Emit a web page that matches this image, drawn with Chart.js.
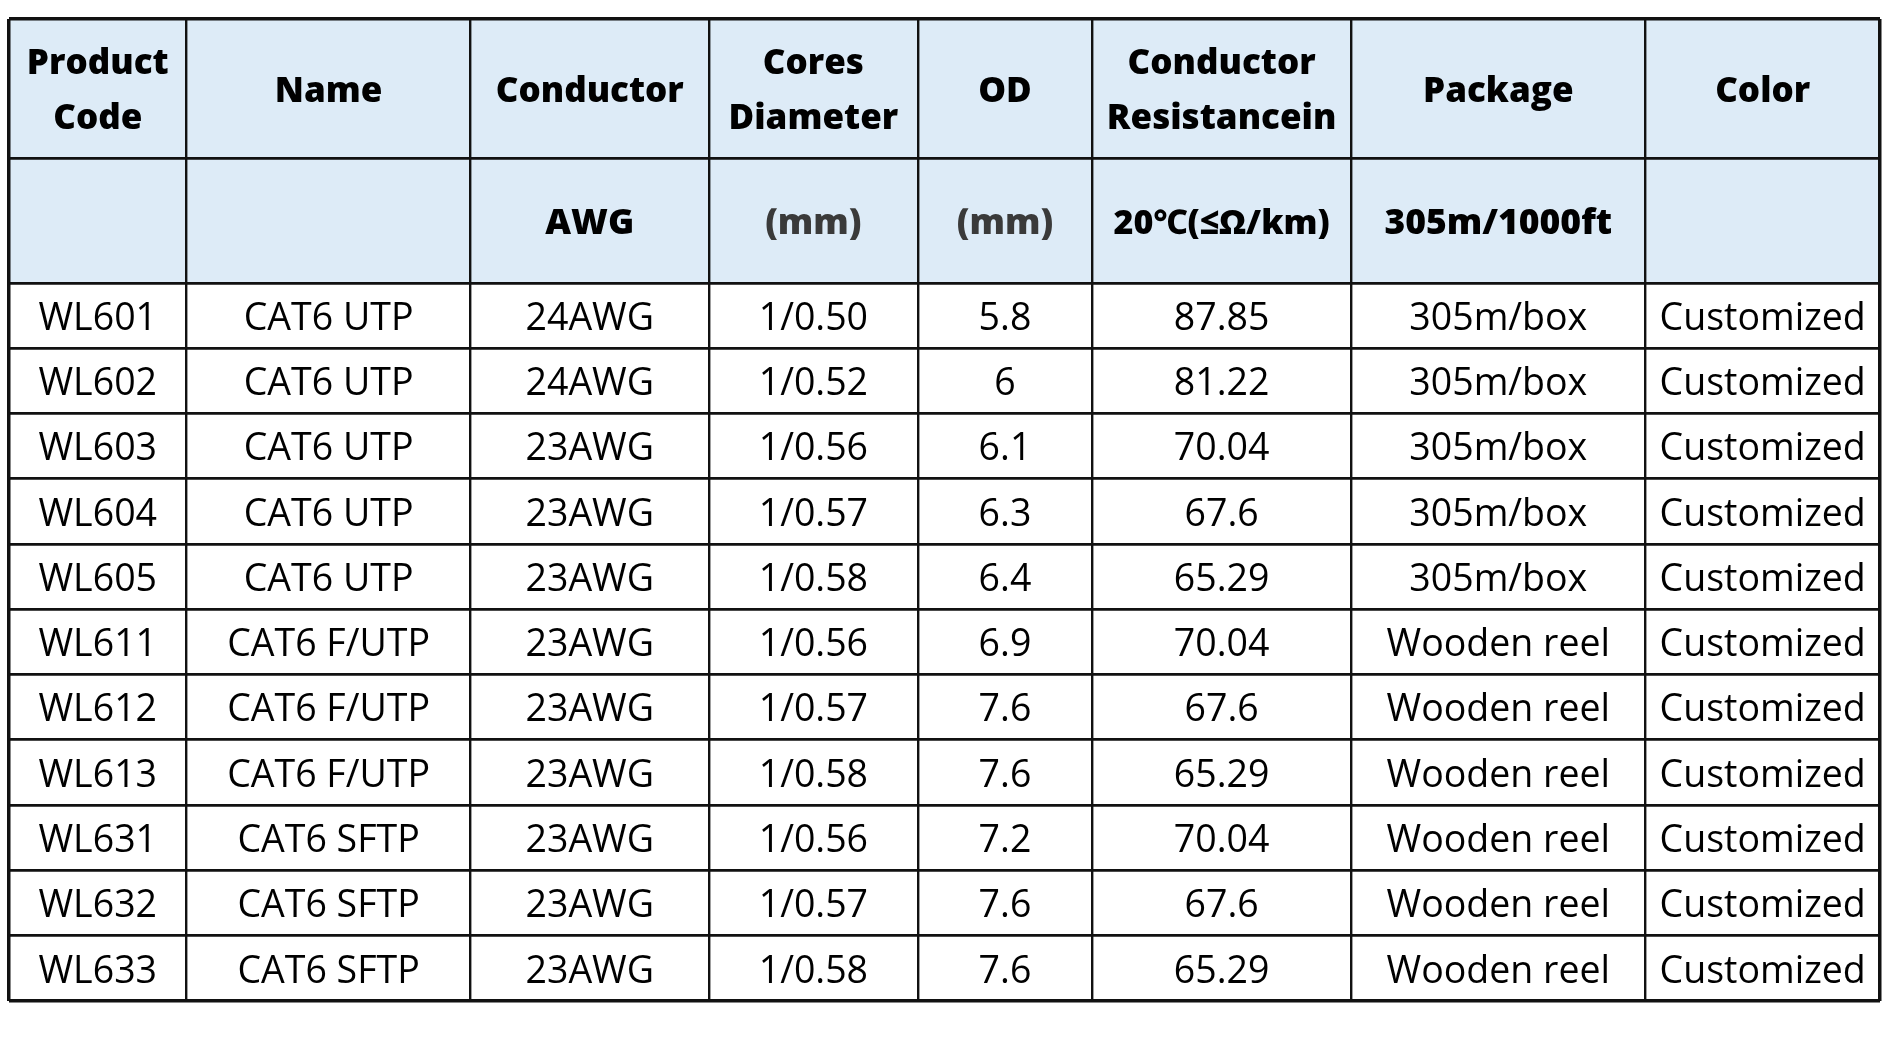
<!DOCTYPE html>
<html>
<head>
<meta charset="utf-8">
<script src="https://cdn.jsdelivr.net/npm/chart.js@4.4.1/dist/chart.umd.min.js"></script>
<style>
  html, body { margin: 0; padding: 0; background: #ffffff; }
  #wrap { width: 1890px; height: 1063px; position: relative; }
</style>
</head>
<body>
<div id="wrap"><canvas id="c" width="1890" height="1063"></canvas></div>
<script>
// ---------- DATA ----------
const headerRow1 = ['Product\nCode', 'Name', 'Conductor', 'Cores\nDiameter', 'OD', 'Conductor\nResistancein', 'Package', 'Color'];
const headerRow2 = ['', '', 'AWG', '(mm)', '(mm)', '20\u2103(\u2264\u03A9/km)', '305m/1000ft', ''];
const productCodes = ['WL601', 'WL602', 'WL603', 'WL604', 'WL605', 'WL611', 'WL612', 'WL613', 'WL631', 'WL632', 'WL633'];
const names = ['CAT6 UTP', 'CAT6 UTP', 'CAT6 UTP', 'CAT6 UTP', 'CAT6 UTP', 'CAT6 F/UTP', 'CAT6 F/UTP', 'CAT6 F/UTP', 'CAT6 SFTP', 'CAT6 SFTP', 'CAT6 SFTP'];
const conductors = ['24AWG', '24AWG', '23AWG', '23AWG', '23AWG', '23AWG', '23AWG', '23AWG', '23AWG', '23AWG', '23AWG'];
const coreDiameters = ['1/0.50', '1/0.52', '1/0.56', '1/0.57', '1/0.58', '1/0.56', '1/0.57', '1/0.58', '1/0.56', '1/0.57', '1/0.58'];
const outerDiameters = [5.8, 6, 6.1, 6.3, 6.4, 6.9, 7.6, 7.6, 7.2, 7.6, 7.6];
const resistances = [87.85, 81.22, 70.04, 67.6, 65.29, 70.04, 67.6, 65.29, 70.04, 67.6, 65.29];
const packages = ['305m/box', '305m/box', '305m/box', '305m/box', '305m/box', 'Wooden reel', 'Wooden reel', 'Wooden reel', 'Wooden reel', 'Wooden reel', 'Wooden reel'];
const colorsCol = ['Customized', 'Customized', 'Customized', 'Customized', 'Customized', 'Customized', 'Customized', 'Customized', 'Customized', 'Customized', 'Customized'];

// ---------- LAYOUT (sizes only) ----------
const colWidths = [177.4, 284, 238, 209, 174, 259, 294, 234.5];
const headerHeights = [139, 125];
const dataRowHeight = 65.3;

const colEdges = [0];
colWidths.forEach(w => colEdges.push(colEdges[colEdges.length - 1] + w));
const rowHeights = headerHeights.concat(productCodes.map(() => dataRowHeight));
const rowEdges = [0];
rowHeights.forEach(h => rowEdges.push(rowEdges[rowEdges.length - 1] + h));
const totalW = colEdges[colEdges.length - 1];
const totalH = rowEdges[rowEdges.length - 1];

// build cells
const dataColumns = [productCodes, names, conductors, coreDiameters, outerDiameters, resistances, packages, colorsCol];
const cells = [];
function pushCell(r, c, text, kind) {
  cells.push({ x: (colEdges[c] + colEdges[c + 1]) / 2, y: (rowEdges[r] + rowEdges[r + 1]) / 2, text: String(text), kind: kind, col: c });
}
headerRow1.forEach((t, c) => pushCell(0, c, t, 'h1'));
headerRow2.forEach((t, c) => pushCell(1, c, t, 'h2'));
productCodes.forEach((_, i) => dataColumns.forEach((col, c) => pushCell(2 + i, c, col[i], 'd')));

const FONT = "'Open Sans', 'Noto Sans', 'DejaVu Sans', sans-serif";

const tablePlugin = {
  id: 'tablePlugin',
  beforeDraw(chart) {
    const { ctx, scales: { x, y } } = chart;
    ctx.save();
    ctx.fillStyle = '#ddebf7';
    const x0 = x.getPixelForValue(0), x1 = x.getPixelForValue(totalW);
    const y0 = y.getPixelForValue(0), y1 = y.getPixelForValue(rowEdges[2]);
    ctx.fillRect(x0, y0, x1 - x0, y1 - y0);
    ctx.restore();
  },
  afterDatasetsDraw(chart) {
    const { ctx } = chart;
    const meta = chart.getDatasetMeta(0);
    ctx.save();
    ctx.textAlign = 'center';
    ctx.textBaseline = 'middle';
    meta.data.forEach((el, i) => {
      const cell = cells[i];
      if (!cell.text) return;
      if (cell.kind === 'h1') {
        ctx.font = '800 35px ' + FONT;
        ctx.fillStyle = '#000';
      } else if (cell.kind === 'h2') {
        const isUnit = cell.text === '(mm)';
        const isRes = cell.col === 5;
        ctx.font = '800 ' + (isRes ? 34 : 35.5) + 'px ' + FONT;
        ctx.fillStyle = isUnit ? '#3a3a3a' : '#000';
      } else {
        ctx.font = '37.5px ' + FONT;
        ctx.fillStyle = '#000';
      }
      const lines = cell.text.split('\n');
      const lh = 55;
      lines.forEach((ln, k) => {
        ctx.fillText(ln, el.x, el.y + (k - (lines.length - 1) / 2) * lh + 3.5);
      });
    });
    ctx.restore();
  }
};

new Chart(document.getElementById('c'), {
  type: 'scatter',
  data: {
    datasets: [{
      data: cells.map(c => ({ x: c.x, y: c.y })),
      pointRadius: 0,
      pointHoverRadius: 0,
      showLine: false
    }]
  },
  options: {
    responsive: false,
    animation: false,
    events: [],
    layout: { padding: { left: 9, right: 10, top: 19, bottom: 62 } },
    plugins: { legend: { display: false }, tooltip: { enabled: false } },
    scales: {
      x: {
        type: 'linear', min: 0, max: totalW,
        afterBuildTicks: s => { s.ticks = colEdges.map(v => ({ value: v })); },
        ticks: { display: false },
        grid: {
          drawTicks: false,
          color: '#111',
          lineWidth: ctx => (ctx.index === 0 || ctx.index === colEdges.length - 1) ? 3.5 : 2.4
        },
        border: { display: false }
      },
      y: {
        type: 'linear', min: 0, max: totalH, reverse: true,
        afterBuildTicks: s => { s.ticks = rowEdges.map(v => ({ value: v })); },
        ticks: { display: false },
        grid: {
          drawTicks: false,
          color: '#111',
          lineWidth: ctx => (ctx.index === 0 || ctx.index === rowEdges.length - 1) ? 3.5 : 2.8
        },
        border: { display: false }
      }
    }
  },
  plugins: [tablePlugin]
});
</script>
</body>
</html>
